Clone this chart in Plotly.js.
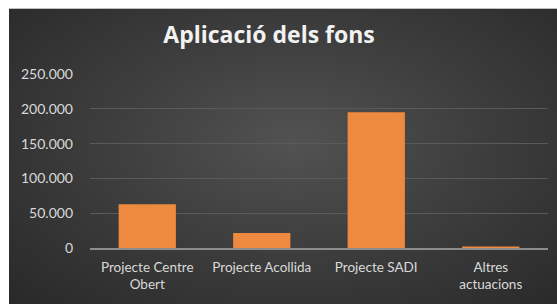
<!DOCTYPE html>
<html>
<head>
<meta charset="utf-8">
<script src="https://cdn.plot.ly/plotly-3.0.1.min.js"></script>
<style>
  html, body { margin:0; padding:0; background:#ffffff; width:557px; height:304px; overflow:hidden; }
  #bg { position:absolute; left:9px; top:8px; width:548px; height:296px;
        border-top:1px solid #bfbfbf;
        background: radial-gradient(ellipse 70% 75% at 52% 45%, #525252 0%, #3f3f3f 45%, #2a2a2a 100%); }
  #chart { position:absolute; left:0; top:0; width:557px; height:304px; }
</style>
</head>
<body>
<div id="bg"></div>
<div id="chart"></div>
<script>
const categories = ["Projecte Centre<br>Obert", "Projecte Acollida", "Projecte SADI", "Altres<br>actuacions"];
const values = [63000, 21500, 195000, 2000];
const yTicks = [0, 50000, 100000, 150000, 200000, 250000];

const font = "Lato, 'Open Sans', sans-serif";

Plotly.newPlot('chart', [{
  type: 'bar',
  x: categories,
  y: values,
  marker: { color: '#ed8a3f', line: { width: 0 } },
  hoverinfo: 'none'
}], {
  width: 557, height: 304,
  paper_bgcolor: 'rgba(0,0,0,0)',
  plot_bgcolor: 'rgba(0,0,0,0)',
  margin: { l: 90, r: 9, t: 74, b: 56, pad: 0 },
  separators: ',.',
  bargap: 0.5,
  showlegend: false,
  title: {
    text: '<b>Aplicació dels fons</b>',
    font: { family: "'Open Sans', sans-serif", size: 23, color: '#f2f2f2' },
    x: 0.483, xanchor: 'center', y: 0.885, yanchor: 'middle'
  },
  xaxis: {
    type: 'category',
    showgrid: false,
    showline: true, linecolor: '#8c8c8c', linewidth: 1.5,
    ticks: '', zeroline: false,
    tickfont: { family: font, size: 13.5, color: '#d9d9d9' },
    ticklabelstandoff: 6
  },
  yaxis: {
    range: [0, 250000],
    tickvals: yTicks,
    tickformat: ',d',
    showgrid: true, gridcolor: '#5a5a5a', gridwidth: 1,
    zeroline: false, showline: false, ticks: '',
    tickfont: { family: font, size: 14, color: '#d9d9d9' },
    ticklabelstandoff: 16
  }
}, { staticPlot: true });
</script>
</body>
</html>
